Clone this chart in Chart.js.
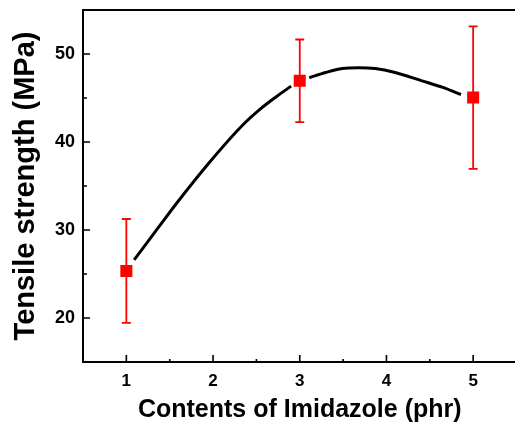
<!DOCTYPE html>
<html>
<head>
<meta charset="utf-8">
<script src="https://cdn.jsdelivr.net/npm/chart.js@4.4.1/dist/chart.umd.min.js"></script>
<style>
    html, body { margin: 0; padding: 0; background: #fff; overflow: hidden; }
    #wrap { width: 525px; height: 428px; }
</style>
</head>
<body>
<div id="wrap"><canvas id="chart" width="525" height="428"></canvas></div>
<script>
// measured points (phr -> MPa)
const contents = [1, 3, 5];
const strength = [25.35, 46.95, 45.05];
const strengthErr = [5.9, 4.7, 8.1];

// fitted curve (null = gap at the middle marker)
const curveX = [1.09, 1.37, 1.60, 1.96, 2.34, 2.54, 2.73, 2.90, 3.00, 3.11, 3.30, 3.49, 3.68, 3.87, 4.10, 4.41, 4.65, 4.86];
const curveY = [26.6, 30.3, 33.3, 37.7, 41.9, 43.7, 45.15, 46.35, null, 47.3, 47.9, 48.35, 48.45, 48.35, 47.9, 46.95, 46.2, 45.4];

const xTicks = [1, 2, 3, 4, 5];
const xMinorTicks = [1.5, 2.5, 3.5, 4.5];
const yTicks = [20, 30, 40, 50];
const yMinorTicks = [25, 35, 45];

// inward ticks, top border and error bars
const frame = {
    id: 'frame',
    afterDatasetsDraw(chart) {
        const ctx = chart.ctx;
        const xs = chart.scales.x, ys = chart.scales.y;
        const area = chart.chartArea;
        ctx.save();
        ctx.strokeStyle = '#000';
        ctx.lineWidth = 2;
        ctx.beginPath();
        ctx.moveTo(area.left - 1, area.top);
        ctx.lineTo(area.right, area.top);
        ctx.stroke();

        ctx.lineWidth = 1.6;
        ctx.beginPath();
        xTicks.forEach(v => {
            const px = xs.getPixelForValue(v);
            ctx.moveTo(px, area.bottom); ctx.lineTo(px, area.bottom - 7);
        });
        xMinorTicks.forEach(v => {
            const px = xs.getPixelForValue(v);
            ctx.moveTo(px, area.bottom); ctx.lineTo(px, area.bottom - 3);
        });
        yTicks.forEach(v => {
            const py = ys.getPixelForValue(v);
            ctx.moveTo(area.left, py); ctx.lineTo(area.left + 7, py);
        });
        yMinorTicks.forEach(v => {
            const py = ys.getPixelForValue(v);
            ctx.moveTo(area.left, py); ctx.lineTo(area.left + 4, py);
        });
        ctx.stroke();

        ctx.strokeStyle = '#ff0000';
        ctx.lineWidth = 1.8;
        ctx.beginPath();
        contents.forEach((c, i) => {
            const px = xs.getPixelForValue(c);
            const top = ys.getPixelForValue(strength[i] + strengthErr[i]);
            const bot = ys.getPixelForValue(strength[i] - strengthErr[i]);
            ctx.moveTo(px, top); ctx.lineTo(px, bot);
            ctx.moveTo(px - 4.5, top); ctx.lineTo(px + 4.5, top);
            ctx.moveTo(px - 4.5, bot); ctx.lineTo(px + 4.5, bot);
        });
        ctx.stroke();
        ctx.restore();
    }
};

new Chart(document.getElementById('chart'), {
    type: 'line',
    data: {
        datasets: [
            {
                label: 'fit',
                data: curveX.map((x, i) => ({ x: x, y: curveY[i] })),
                borderColor: '#000',
                borderWidth: 3,
                pointRadius: 0,
                cubicInterpolationMode: 'monotone',
                spanGaps: false,
                order: 2
            },
            {
                label: 'Tensile strength',
                data: contents.map((c, i) => ({ x: c, y: strength[i] })),
                showLine: false,
                pointStyle: 'rect',
                pointRadius: 8.5,
                pointBackgroundColor: '#ff0000',
                pointBorderColor: '#ff0000',
                pointBorderWidth: 0,
                order: 1
            }
        ]
    },
    options: {
        responsive: false,
        animation: false,
        events: [],
        layout: { padding: { top: 10, right: 6, left: 0, bottom: 0 } },
        plugins: { legend: { display: false }, tooltip: { enabled: false } },
        scales: {
            x: {
                type: 'linear',
                min: 0.5,
                max: 5.5,
                afterFit: s => { s.height = 66; s.paddingLeft = 0; s.paddingRight = 0; },
                afterBuildTicks: s => { s.ticks = xTicks.map(v => ({ value: v })); },
                grid: { display: false, drawTicks: false },
                border: { display: true, color: '#000', width: 2 },
                ticks: {
                    padding: 9,
                    color: '#000',
                    font: { family: '"Liberation Sans", Arial, sans-serif', size: 17, weight: 'bold' }
                },
                title: {
                    display: true,
                    text: 'Contents of Imidazole (phr)',
                    color: '#000',
                    padding: { top: 0, bottom: 3 },
                    font: { family: '"Liberation Sans", Arial, sans-serif', size: 25, weight: 'bold' }
                }
            },
            y: {
                min: 15,
                max: 55,
                afterFit: s => { s.width = 83; s.paddingTop = 0; s.paddingBottom = 0; },
                afterBuildTicks: s => { s.ticks = yTicks.map(v => ({ value: v })); },
                grid: { display: false, drawTicks: false },
                border: { display: true, color: '#000', width: 2 },
                ticks: {
                    padding: 8,
                    color: '#000',
                    font: { family: '"Liberation Sans", Arial, sans-serif', size: 18, weight: 'bold' }
                },
                title: {
                    display: true,
                    text: 'Tensile strength (MPa)',
                    color: '#000',
                    padding: { top: 9, bottom: 0 },
                    font: { family: '"Liberation Sans", Arial, sans-serif', size: 29, weight: 'bold' }
                }
            }
        }
    },
    plugins: [frame]
});
</script>
</body>
</html>
